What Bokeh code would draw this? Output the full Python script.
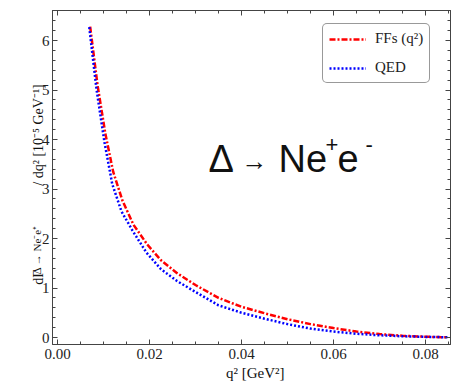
import numpy as np
from bokeh.plotting import figure
from bokeh.models import Label, LinearAxis, Range1d, Legend, LegendItem, SingleIntervalTicker, CustomJSTickFormatter
from bokeh.embed import file_html
from bokeh.resources import INLINE

# ---- data ----
q2_ffs = [0.0071, 0.0087, 0.0104, 0.0121, 0.0141, 0.0165, 0.0195, 0.0225, 0.0260, 0.0300,
          0.0350, 0.0400, 0.0450, 0.0500, 0.0550, 0.0600, 0.0650, 0.0700, 0.0750, 0.0800, 0.0848]
rate_ffs = [6.28, 5.10, 4.12, 3.35, 2.77, 2.28, 1.88, 1.56, 1.30, 1.06,
            0.80, 0.62, 0.49, 0.37, 0.27, 0.19, 0.12, 0.07, 0.035, 0.015, 0.005]
q2_qed = [0.0069, 0.0085, 0.0102, 0.0119, 0.0139, 0.0163, 0.0193, 0.0225, 0.0260, 0.0300,
          0.0350, 0.0400, 0.0450, 0.0500, 0.0550, 0.0600, 0.0650, 0.0700, 0.0750, 0.0800, 0.0848]
rate_qed = [6.27, 5.00, 3.95, 3.10, 2.55, 2.16, 1.72, 1.38, 1.14, 0.92,
            0.65, 0.50, 0.38, 0.27, 0.18, 0.12, 0.075, 0.045, 0.025, 0.012, 0.005]
legend_labels = ["FFs (q²)", "QED"]

SERIF = "Liberation Serif"
SANS = "Liberation Sans"
NB = "\u00a0"

FRAME_LEFT = 52

# pixel <-> data helpers for placing annotations (frame: x 52..450, y 10..344 in page)
def qx(px):
    return (px - 57) / 4600.0

def vy(py):
    return (337 - py) / 49.5

p = figure(width=452, height=386, output_backend="svg", toolbar_location=None,
           x_range=Range1d(qx(FRAME_LEFT), qx(450)), y_range=Range1d(vy(344), vy(10)),
           min_border_left=FRAME_LEFT, min_border_right=2, min_border_top=10, min_border_bottom=42)
p.background_fill_color = "white"
p.border_fill_color = "white"
p.outline_line_color = "#444444"
p.outline_line_width = 1
p.xgrid.visible = False
p.ygrid.visible = False

axis_color = "#444444"

def style_axis(ax, labels=True):
    ax.axis_line_color = axis_color
    ax.major_tick_line_color = axis_color
    ax.minor_tick_line_color = axis_color
    ax.major_tick_in = 5
    ax.major_tick_out = 0
    ax.minor_tick_in = 3
    ax.minor_tick_out = 0
    if labels:
        ax.major_label_text_font = SERIF
        ax.major_label_text_font_size = "15px"
        ax.major_label_text_color = "#222222"
        ax.axis_label_text_font = SERIF
        ax.axis_label_text_font_size = "14px"
        ax.axis_label_text_font_style = "normal"
        ax.axis_label_text_color = "#111111"
    else:
        ax.formatter = CustomJSTickFormatter(code="return ''")
        ax.major_label_standoff = 0

p.xaxis.ticker = SingleIntervalTicker(interval=0.02, num_minor_ticks=4)
p.yaxis.ticker = SingleIntervalTicker(interval=1, num_minor_ticks=5)
style_axis(p.xaxis[0])
style_axis(p.yaxis[0])
p.xaxis.major_label_standoff = 4
p.yaxis.major_label_standoff = 3
p.xaxis.formatter = CustomJSTickFormatter(code="return tick.toFixed(2)")

# axis titles (the subscript of the y title is added as a separate label)
p.yaxis.axis_label = "dΓ" + NB * 24 + "/" + NB + "dq² [10⁻⁵ GeV⁻¹]" + NB * 4
p.yaxis.axis_label_standoff = -7
p.xaxis.axis_label = NB * 2 + "q² [GeV²]"
p.xaxis.axis_label_text_font_size = "15px"
p.xaxis.axis_label_standoff = 3

top_ax = LinearAxis(ticker=SingleIntervalTicker(interval=0.02, num_minor_ticks=4))
style_axis(top_ax, labels=False)
p.add_layout(top_ax, "above")
right_ax = LinearAxis(ticker=SingleIntervalTicker(interval=1, num_minor_ticks=5))
style_axis(right_ax, labels=False)
p.add_layout(right_ax, "right")

r_ffs = p.line(q2_ffs, rate_ffs, line_color="#ff0000", line_width=2.5, line_dash="6 2 2 2")
r_qed = p.line(q2_qed, rate_qed, line_color="#0000ff", line_width=2.5, line_dash="2 2")

legend = Legend(items=[LegendItem(label=legend_labels[0], renderers=[r_ffs]),
                       LegendItem(label=legend_labels[1], renderers=[r_qed])],
                location=(322 - FRAME_LEFT, 261))
legend.label_text_font = SERIF
legend.label_text_font_size = "15px"
legend.label_text_color = "#222222"
legend.glyph_width = 37
legend.glyph_height = 14
legend.spacing = 12
legend.padding = 6
legend.margin = 0
legend.label_standoff = 9
legend.border_line_color = "#333333"
legend.border_line_width = 1
legend.border_radius = 5
legend.background_fill_alpha = 1
p.add_layout(legend, "center")

def lab(text, px, py, size, font=SERIF, style="normal", angle=0.0, place="center", color="#111111"):
    p.add_layout(Label(x=qx(px), y=vy(py), text=text, text_font=font,
                       text_font_size=size, text_font_style=style, angle=angle,
                       text_align="left", text_baseline="alphabetic", text_color=color), place)

# big reaction text
lab("Δ", 208, 158, "38px", SANS)
lab("→", 241, 160, "26px", SANS)
lab("Ne", 278, 158, "38px", SANS)
lab("+", 325, 144, "22px", SANS)
lab("e", 337, 158, "38px", SANS)
lab("-", 365, 144, "22px", SANS)

# subscript of the y title (side panel, so it is not clipped to the frame)
lab("Δ → Ne⁻e⁺", 36, 274, "11px", SERIF, angle=np.pi / 2, place="left")

open("out.html", "w").write(file_html(p, INLINE))
